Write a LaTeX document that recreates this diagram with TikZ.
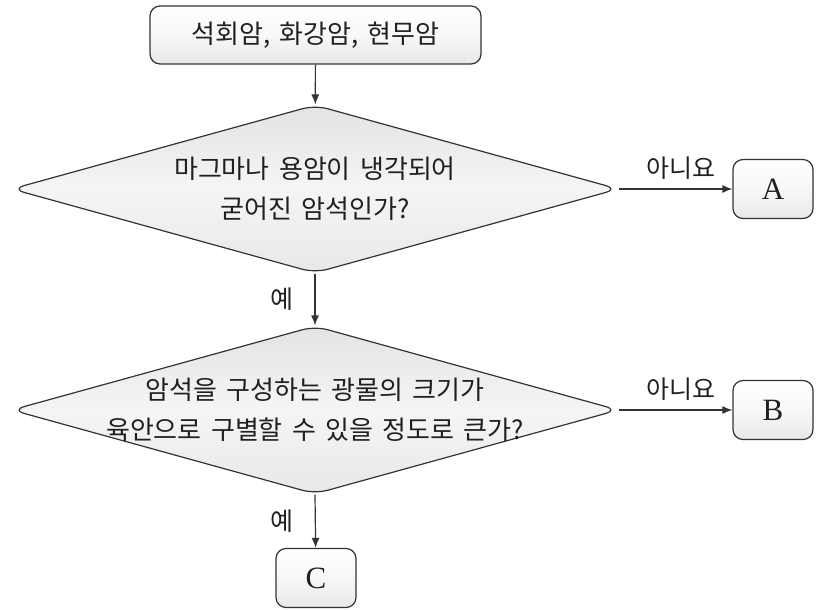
\documentclass[tikz,border=0pt]{standalone}
\usepackage{fontspec}
\setmainfont{Liberation Serif}
\newfontfamily\kr[WordSpace=1.6]{Noto Sans CJK KR}
\usepackage{tikz}
\usetikzlibrary{
  % rounded diamonds for the questions
  shapes.geometric,%
  arrows.meta,%
  positioning
}
\definecolor{inkgray}{HTML}{333333}
\definecolor{textgray}{HTML}{231F20}
\tikzset{>={Latex[length=10pt,width=8pt]}}
\tikzset{flow/.style={line width=1.2pt, draw=inkgray}}
\tikzset{
  boxshade/.style={top color=white, bottom color=black!9, middle color=black!3},
  startbox/.style={flow, boxshade, rounded corners=10pt, minimum width=331pt,
    minimum height=58pt, font=\kr\fontsize{26}{30}\selectfont, text=textgray},
  endbox/.style={flow, boxshade, rounded corners=10pt, minimum width=80pt,
    minimum height=59pt, font=\fontsize{31}{34}\selectfont, text=textgray},
  decision/.style={diamond, flow, top color=black!11, bottom color=black!9,
    middle color=black!4, rounded corners=13pt, minimum width=607pt, minimum height=168pt,
    inner sep=0pt},
  qtext/.style={align=center, font=\kr\fontsize{26}{40}\selectfont, text=textgray},
  answer/.style={font=\kr\fontsize{25}{28}\selectfont, text=textgray}
}

\begin{document}
\begin{tikzpicture}[x=1pt, y=-1pt]
  \useasboundingbox (0,0) rectangle (825,610);
  \node[startbox] (rocks) at (315.5,35) {석회암, 화강암, 현무암};
  % first question: igneous or not
  \node[decision] (q1) at (315,189) {};
  \node[qtext] (q1text) at (q1.center) {마그마나 용암이 냉각되어\\굳어진 암석인가?};
  \node[endbox] (a) at (773,189) {A};
  % second question: grain size
  \node[decision] (q2) at (315,410) {};
  \node[qtext] (q2text) at (q2.center) {암석을 구성하는 광물의 크기가\\육안으로 구별할 수 있을 정도로 큰가?};
  \node[endbox] (b) at (773,410) {B};
  \node[endbox] (c) at (316,578) {C};

  \draw[flow, ->] (rocks) -- (q1);
  \draw[flow, ->] (q1.east) -- node[answer, above=6pt, pos=0.55] {아니요} (a);
  \draw[flow, ->] (q1.south) -- node[answer, left=18pt] {예} (q2.north);
  \draw[flow, ->] (q2.east) -- node[answer, above=6pt, pos=0.55] {아니요} (b);
  \draw[flow, ->] (q2.south) -- node[answer, left=18pt] {예} (c);
\end{tikzpicture}
\end{document}
